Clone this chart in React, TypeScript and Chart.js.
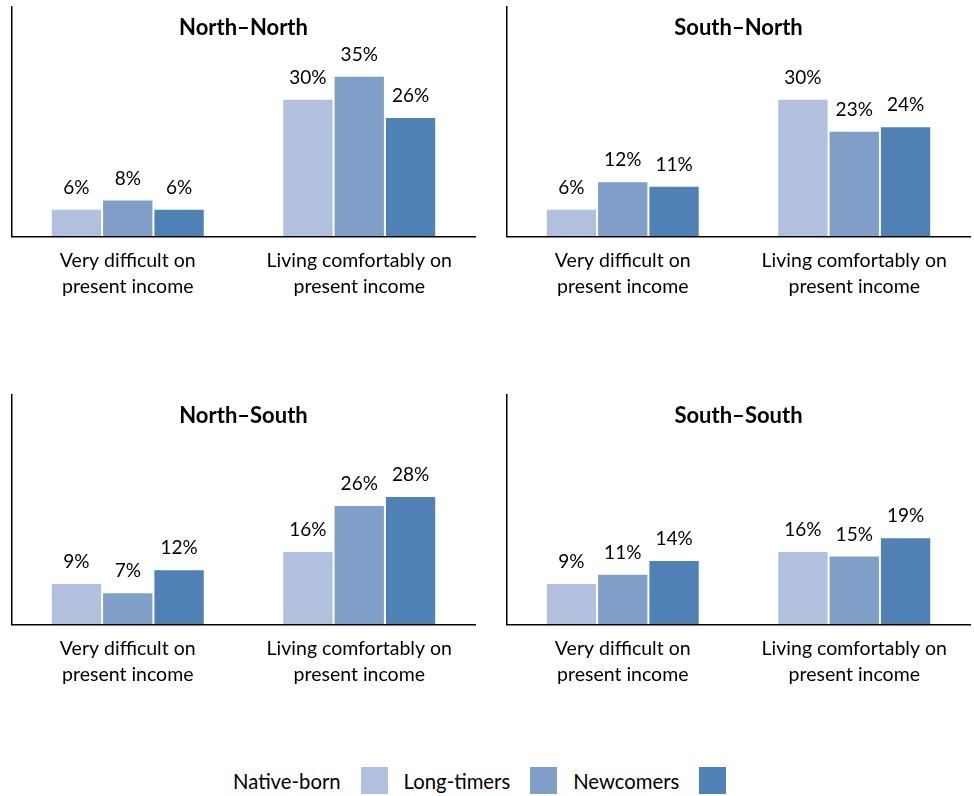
import React, { useEffect, useRef } from "react";
import { Chart, registerables } from "chart.js";

Chart.register(...registerables);

const FONT = "Lato, 'Open Sans', sans-serif";

const categories = [
  ["Very difficult on", "present income"],
  ["Living comfortably on", "present income"],
];
const seriesNames = ["Native-born", "Long-timers", "Newcomers"];
const seriesColors = ["#B1C1DD", "#7F9EC8", "#4F81B4"];

const nnNative = [6, 30];
const nnLong = [8, 35];
const nnNew = [6, 26];

const snNative = [6, 30];
const snLong = [12, 23];
const snNew = [11, 24];

const nsNative = [9, 16];
const nsLong = [7, 26];
const nsNew = [12, 28];

const ssNative = [9, 16];
const ssLong = [11, 15];
const ssNew = [14, 19];

const panels = [
  { title: "North\u2013North", data: [nnNative, nnLong, nnNew], left: 0, top: 0, width: 487, padL: 12, padR: 12 },
  { title: "South\u2013North", data: [snNative, snLong, snNew], left: 495, top: 0, width: 479, padL: 12, padR: 4 },
  { title: "North\u2013South", data: [nsNative, nsLong, nsNew], left: 0, top: 388, width: 487, padL: 12, padR: 12 },
  { title: "South\u2013South", data: [ssNative, ssLong, ssNew], left: 495, top: 388, width: 479, padL: 12, padR: 4 },
];

const PANEL_H = 323;

function Panel({ p }: { p: any }) {
  const ref = useRef<HTMLCanvasElement>(null);
  useEffect(() => {
    const canvas = ref.current;
    if (!canvas) return;
    const overlay = {
      id: "overlay" + p.title,
      afterDatasetsDraw(chart: any) {
        const ctx = chart.ctx;
        ctx.save();
        ctx.fillStyle = "#000";
        ctx.textAlign = "center";
        ctx.textBaseline = "alphabetic";
        ctx.font = `19px ${FONT}`;
        chart.data.datasets.forEach((ds: any, i: number) => {
          const meta = chart.getDatasetMeta(i);
          meta.data.forEach((bar: any, j: number) => {
            ctx.fillText(ds.data[j] + "%", bar.x, bar.y - 15);
          });
        });
        const ca = chart.chartArea;
        ctx.font = `bold 22px ${FONT}`;
        ctx.textBaseline = "middle";
        ctx.fillText(p.title, (ca.left + ca.right) / 2, ca.top + 21);
        ctx.restore();
      },
    };
    const chart = new Chart(canvas, {
      type: "bar",
      data: {
        labels: categories,
        datasets: p.data.map((d: number[], i: number) => ({
          label: seriesNames[i],
          data: d,
          backgroundColor: seriesColors[i],
          borderColor: "rgba(255,255,255,0.7)",
          borderWidth: 1,
          categoryPercentage: 0.665,
          barPercentage: 1,
        })),
      },
      options: {
        animation: false,
        responsive: false,
        maintainAspectRatio: false,
        layout: { padding: { left: p.padL, right: p.padR, top: 7, bottom: 12 } },
        plugins: { legend: { display: false }, tooltip: { enabled: false }, title: { display: false } },
        scales: {
          x: {
            grid: { display: false, drawTicks: false },
            border: { display: true, color: "#000", width: 1.5 },
            ticks: {
              color: "#000",
              font: { size: 19.5, family: FONT, lineHeight: 1.3 },
              padding: 12,
              maxRotation: 0,
              autoSkip: false,
            },
          },
          y: {
            min: 0,
            max: 50,
            grid: { display: false, drawTicks: false },
            border: { display: true, color: "#000", width: 1.5 },
            ticks: { display: false },
          },
        },
      },
      plugins: [overlay],
    });
    return () => chart.destroy();
  }, [p]);
  return (
    <canvas
      ref={ref}
      width={p.width}
      height={PANEL_H}
      style={{ position: "absolute", left: p.left, top: p.top, width: p.width, height: PANEL_H }}
    />
  );
}

export default function App() {
  return (
    <div style={{ position: "absolute", left: 0, top: 0, width: 974, height: 796, background: "#fff", overflow: "hidden", fontFamily: FONT }}>
      {panels.map((p) => (
        <Panel key={p.title} p={p} />
      ))}
      <div style={{ position: "absolute", left: 233, top: 767, height: 27, display: "flex", alignItems: "center", fontSize: 20.3, color: "#000" }}>
        {seriesNames.map((n, i) => (
          <React.Fragment key={n}>
            <span style={{ marginRight: 20, whiteSpace: "nowrap" }}>{n}</span>
            <span style={{ display: "inline-block", width: 27, height: 27, background: seriesColors[i], marginRight: 16 }} />
          </React.Fragment>
        ))}
      </div>
    </div>
  );
}
